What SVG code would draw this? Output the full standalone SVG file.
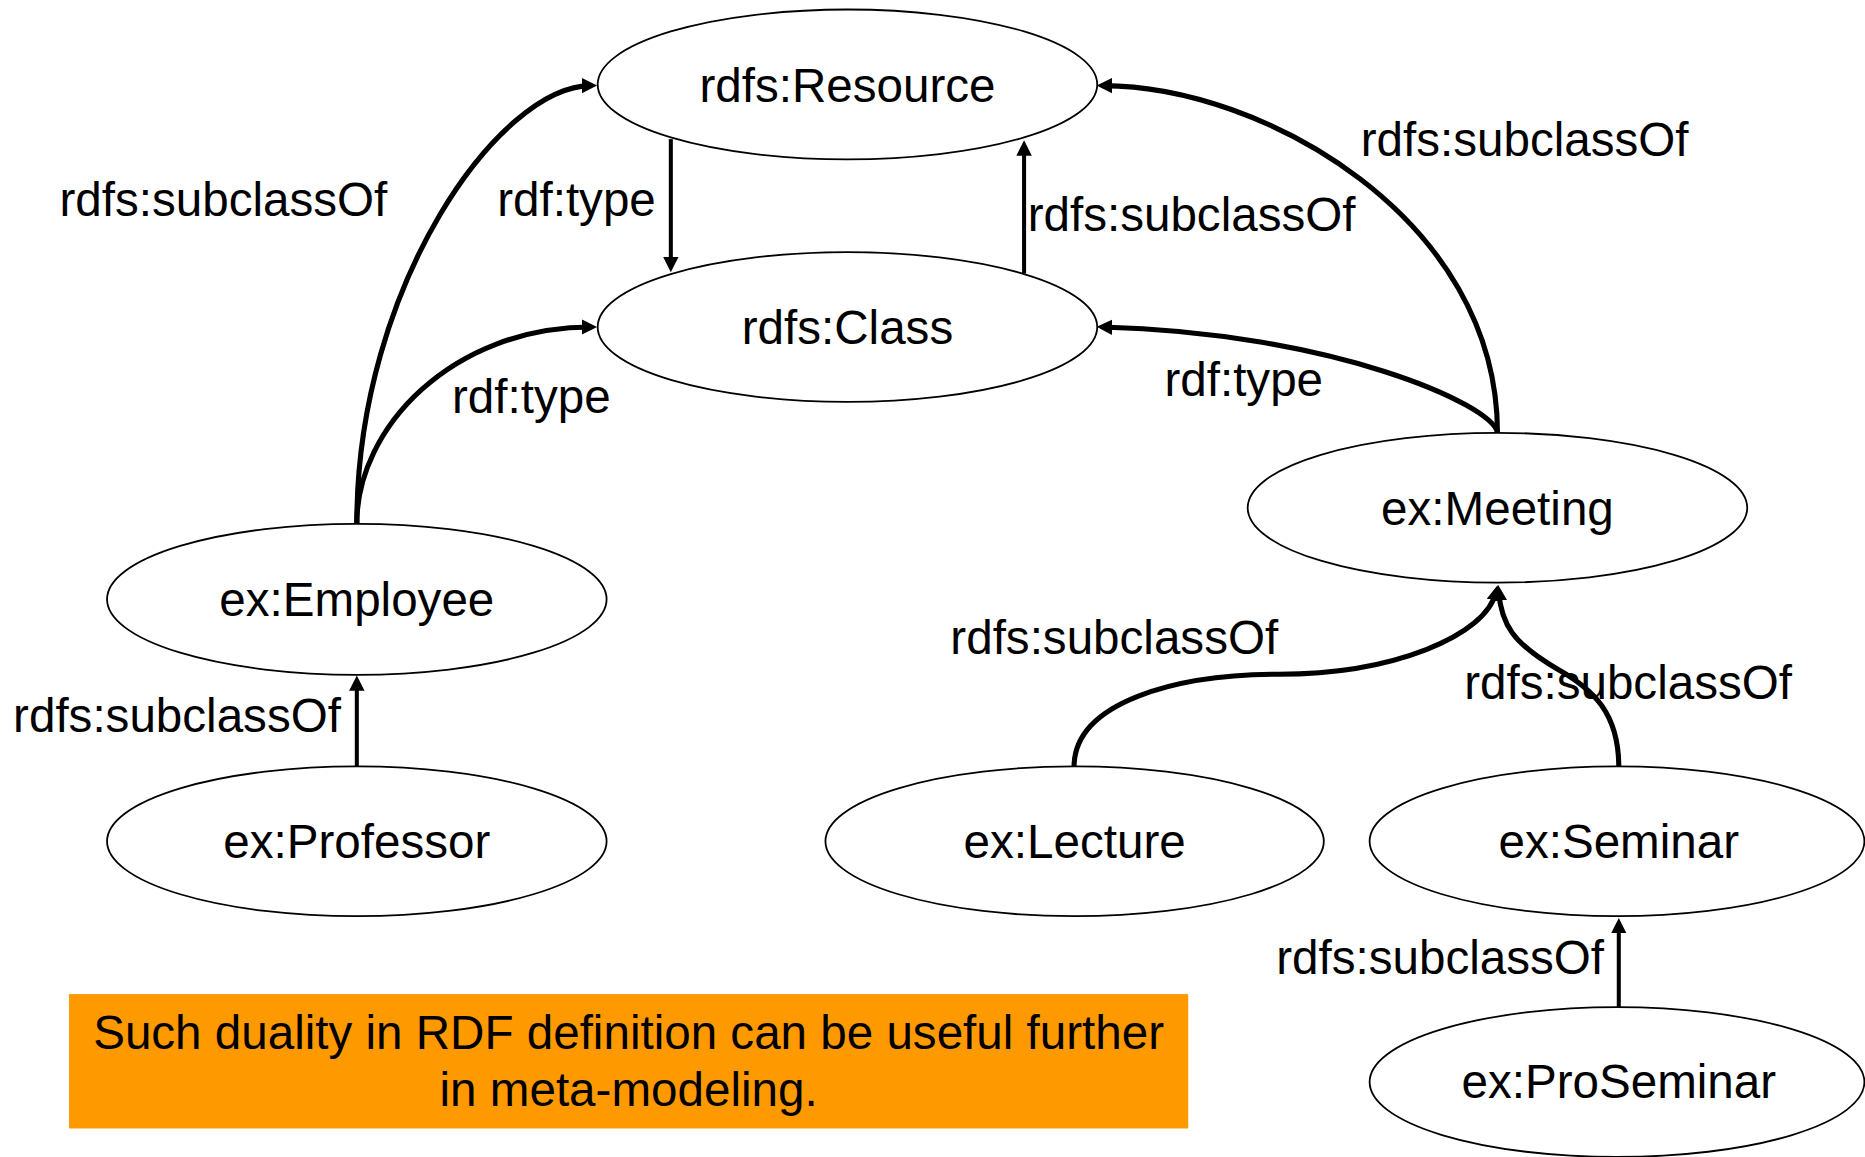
<svg xmlns="http://www.w3.org/2000/svg" width="1865" height="1157" viewBox="0 0 1865 1157">
<style>
.node{fill:#fff;stroke:#000;stroke-width:1.5}
.lbl{font-family:"Liberation Sans",Arial,sans-serif;font-size:40px;fill:#000}
.c{text-anchor:middle}
.edge{fill:none;stroke:#000;stroke-width:4.3}
.straight{stroke-width:3.4}
</style>
<defs>
<marker id="ah" markerUnits="userSpaceOnUse" markerWidth="14" markerHeight="14" refX="8" refY="7" orient="auto">
<path d="M0,0.5 L13,7 L0,13.5 z" fill="#000"/>
</marker>
</defs>
<rect x="0" y="0" width="1865" height="1157" fill="#fff"/>
<g transform="scale(1.18941,1.18911)">
<g id="note">
<rect x="58" y="836" width="941" height="113" fill="#FF9900"/>
<text class="lbl c" x="528.5" y="882">Such duality in RDF definition can be useful further</text>
<text class="lbl c" x="528.5" y="930">in meta-modeling.</text>
</g>
<g id="connectors">
<path class="edge straight" marker-end="url(#ah)" d="M564,117 L564,224"/>
<path class="edge straight" marker-end="url(#ah)" d="M861,230 L861,123"/>
<path class="edge" marker-end="url(#ah)" d="M300,440 C300,240 420,72 497,72"/>
<path class="edge" marker-end="url(#ah)" d="M300,440 C300,360 380,275 497,275"/>
<path class="edge" marker-end="url(#ah)" d="M1259,364 C1259,184 1062,72 927,72"/>
<path class="edge" marker-end="url(#ah)" d="M1259,364 C1255,340 1120,280 927,275"/>
<path class="edge" marker-end="url(#ah)" d="M903,645 C903,590 990,567 1075,567 C1170,567 1250,535 1258,497"/>
<path class="edge" marker-end="url(#ah)" d="M1361,645 C1361,600 1340,580 1310,563 C1272,541 1262,525 1260,497"/>
<path class="edge straight" marker-end="url(#ah)" d="M300,645 L300,573"/>
<path class="edge straight" marker-end="url(#ah)" d="M1361,849 L1361,777"/>
<text class="lbl" x="50" y="182">rdfs:subclassOf</text>
<text class="lbl" x="418" y="182">rdf:type</text>
<text class="lbl" x="380" y="347">rdf:type</text>
<text class="lbl" x="864" y="194">rdfs:subclassOf</text>
<text class="lbl" x="1144" y="131">rdfs:subclassOf</text>
<text class="lbl" x="979" y="333">rdf:type</text>
<text class="lbl" x="11" y="616">rdfs:subclassOf</text>
<text class="lbl" x="799" y="550">rdfs:subclassOf</text>
<text class="lbl" x="1231" y="588">rdfs:subclassOf</text>
<text class="lbl" x="1073" y="819">rdfs:subclassOf</text>
</g>
<g id="resource"><ellipse class="node" cx="712.5" cy="71" rx="210" ry="63"/><text class="lbl c" x="712.5" y="86">rdfs:Resource</text></g>
<g id="class"><ellipse class="node" cx="712.5" cy="275" rx="210" ry="63"/><text class="lbl c" x="712.5" y="289">rdfs:Class</text></g>
<g id="employee"><ellipse class="node" cx="300" cy="504" rx="210" ry="63.5"/><text class="lbl c" x="300" y="518">ex:Employee</text></g>
<g id="professor"><ellipse class="node" cx="300" cy="707.5" rx="210" ry="63"/><text class="lbl c" x="300" y="721.5">ex:Professor</text></g>
<g id="meeting"><ellipse class="node" cx="1259" cy="427" rx="210" ry="63"/><text class="lbl c" x="1259" y="441.5">ex:Meeting</text></g>
<g id="lecture"><ellipse class="node" cx="903.5" cy="707.5" rx="209.5" ry="63"/><text class="lbl c" x="903.5" y="721.5">ex:Lecture</text></g>
<g id="seminar"><ellipse class="node" cx="1359.5" cy="707.5" rx="208" ry="63"/><text class="lbl c" x="1361" y="721.5">ex:Seminar</text></g>
<g id="proseminar"><ellipse class="node" cx="1359.5" cy="910" rx="208" ry="63"/><text class="lbl c" x="1361" y="923.5">ex:ProSeminar</text></g>
</g>
</svg>
